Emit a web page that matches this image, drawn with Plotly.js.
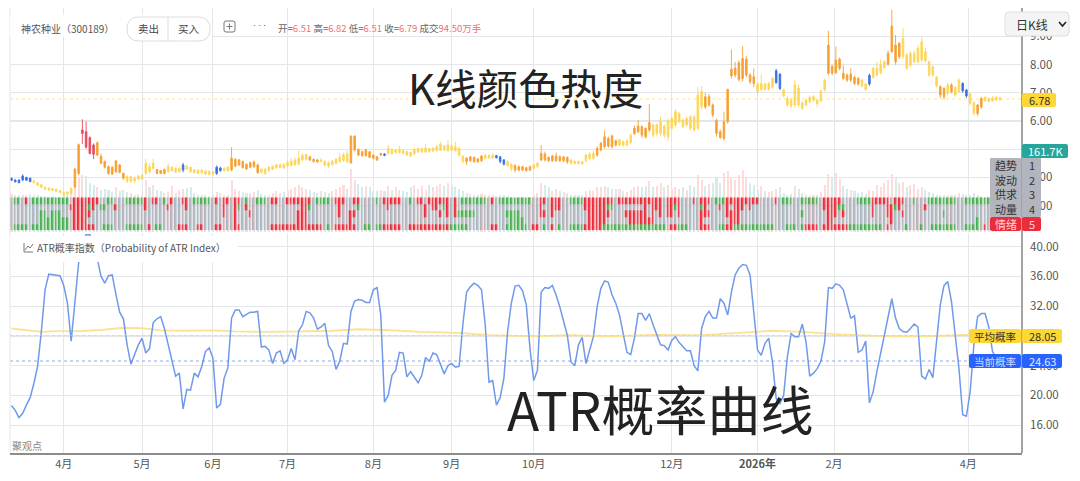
<!DOCTYPE html>
<html><head><meta charset="utf-8">
<script src="https://cdn.plot.ly/plotly-3.0.1.min.js"></script>
<style>html,body{margin:0;padding:0;background:#fff;overflow:hidden}</style>
</head><body><div id="chart" style="width:1080px;height:481px"></div>
<script>
const bodyTop=[3.97,3.91,3.91,4.05,4.00,3.97,3.88,3.81,3.74,3.65,
3.62,3.60,3.58,3.53,3.46,3.48,3.61,4.30,5.16,5.68,
5.62,5.41,5.15,5.23,4.74,4.56,4.38,4.36,4.58,4.44,
4.14,4.03,4.03,3.97,4.05,4.08,4.50,4.38,4.50,4.28,
4.24,4.28,4.38,4.36,4.32,4.32,4.44,4.40,4.36,4.26,
4.26,4.26,4.23,4.22,4.20,4.36,4.33,4.33,4.36,4.68,
4.64,4.62,4.56,4.46,4.52,4.55,4.44,4.29,4.29,4.36,
4.40,4.45,4.45,4.45,4.53,4.58,4.62,4.68,4.78,4.81,
4.73,4.64,4.62,4.62,4.57,4.52,4.57,4.64,4.71,4.80,
4.83,5.47,5.47,4.99,4.91,4.97,4.91,4.79,4.73,4.85,
4.83,5.03,4.99,4.97,4.97,4.95,4.91,4.89,4.99,5.02,
5.02,5.04,5.02,5.04,5.09,5.18,5.11,5.15,5.11,5.09,
5.04,4.76,4.68,4.73,4.71,4.66,4.76,4.78,4.78,4.79,
4.77,4.73,4.62,4.56,4.46,4.42,4.38,4.38,4.34,4.38,
4.44,4.50,4.85,4.83,4.71,4.76,4.76,4.73,4.73,4.71,
4.62,4.57,4.57,4.56,4.79,4.83,4.85,5.03,5.21,5.44,
5.38,5.47,5.30,5.33,5.27,5.30,5.50,5.74,5.82,5.80,
5.74,5.94,5.86,5.86,5.98,5.82,6.01,6.09,6.33,6.27,
6.03,6.09,6.15,6.15,6.92,7.04,6.86,6.86,6.57,6.03,
5.62,5.97,7.12,7.83,7.87,8.07,8.22,8.19,7.63,7.57,
7.31,7.33,7.31,7.33,7.51,7.78,7.66,7.10,6.80,6.74,
7.28,7.16,6.65,6.74,6.84,6.86,6.74,7.07,7.45,8.69,
7.93,8.16,8.19,7.69,7.63,7.66,7.55,7.51,7.45,7.31,
7.62,7.87,7.87,7.99,8.10,8.40,9.37,8.69,8.75,8.93,
8.34,8.40,8.40,8.58,8.81,8.46,8.10,7.93,7.55,7.22,
7.16,7.28,7.28,7.19,7.45,7.33,7.10,6.96,6.65,6.57,
6.80,6.84,6.80,6.82,6.84,6.83];
const bodyBottom=[3.90,3.84,3.81,3.91,3.90,3.85,3.81,3.72,3.65,3.58,
3.55,3.54,3.51,3.46,3.39,3.41,3.43,3.67,4.14,5.56,
5.07,4.85,4.82,4.79,4.50,4.36,4.14,4.12,4.20,4.18,
3.97,3.87,3.87,3.87,3.94,3.94,4.14,4.20,4.32,4.14,
4.14,4.14,4.20,4.24,4.20,4.20,4.26,4.29,4.20,4.17,
4.14,4.17,4.12,4.11,4.11,4.14,4.24,4.24,4.24,4.26,
4.40,4.44,4.35,4.30,4.36,4.38,4.17,4.18,4.14,4.24,
4.29,4.34,4.35,4.34,4.40,4.43,4.45,4.48,4.62,4.64,
4.62,4.56,4.55,4.57,4.43,4.40,4.45,4.50,4.56,4.60,
4.56,4.52,4.97,4.79,4.77,4.77,4.71,4.68,4.62,4.79,
4.78,4.85,4.85,4.88,4.88,4.85,4.79,4.76,4.83,4.90,
4.90,4.90,4.91,4.94,4.95,4.97,4.97,4.95,4.97,4.95,
4.79,4.56,4.56,4.59,4.56,4.55,4.59,4.68,4.69,4.69,
4.70,4.56,4.47,4.42,4.30,4.26,4.26,4.26,4.24,4.26,
4.32,4.38,4.62,4.62,4.59,4.59,4.59,4.59,4.59,4.55,
4.50,4.50,4.49,4.48,4.59,4.68,4.68,4.79,4.97,5.09,
5.11,5.09,5.15,5.15,5.15,5.15,5.23,5.56,5.62,5.50,
5.44,5.68,5.50,5.56,5.56,5.50,5.44,5.74,5.86,5.98,
5.80,5.86,5.74,5.68,5.74,6.51,6.50,6.57,6.21,5.56,
5.42,5.38,5.98,7.60,7.63,7.48,7.51,7.63,7.39,7.33,
7.04,7.12,7.12,7.12,7.19,7.36,7.15,6.90,6.57,6.53,
6.57,6.57,6.45,6.57,6.68,6.74,6.62,6.72,7.10,7.69,
7.69,7.71,7.87,7.51,7.45,7.45,7.33,7.31,7.24,7.12,
7.31,7.55,7.63,7.71,7.90,8.02,8.46,8.10,8.28,8.28,
7.87,7.98,8.10,8.10,8.16,8.14,7.63,7.63,7.24,6.92,
6.86,6.98,7.04,6.92,7.04,7.07,6.89,6.63,6.27,6.27,
6.50,6.72,6.69,6.71,6.75,6.75];
const highs=[3.99,3.93,3.92,4.11,4.02,3.99,3.90,3.84,3.77,3.68,
3.64,3.62,3.60,3.55,3.50,3.50,3.65,4.32,5.20,6.06,
5.98,5.45,5.20,5.28,4.85,4.60,4.42,4.40,4.62,4.48,
4.18,4.08,4.06,4.02,4.08,4.12,4.66,4.50,4.66,4.30,
4.26,4.32,4.50,4.40,4.36,4.36,4.52,4.44,4.38,4.30,
4.28,4.29,4.25,4.24,4.22,4.42,4.38,4.36,4.40,5.07,
4.68,4.66,4.60,4.50,4.56,4.60,4.50,4.32,4.33,4.40,
4.43,4.48,4.48,4.50,4.62,4.68,4.70,4.95,4.85,4.84,
4.76,4.67,4.65,4.68,4.62,4.56,4.62,4.68,4.85,4.88,
4.95,5.48,5.48,5.03,4.94,5.02,4.94,4.82,4.76,4.87,
4.85,5.15,5.02,5.00,5.12,4.98,4.95,4.92,5.05,5.08,
5.06,5.18,5.05,5.07,5.14,5.26,5.15,5.32,5.15,5.26,
5.08,4.78,4.72,4.76,4.74,4.68,4.79,4.84,4.82,4.84,
4.80,4.76,4.65,4.60,4.50,4.46,4.42,4.41,4.37,4.42,
4.48,4.54,5.15,4.92,4.74,4.80,4.88,4.78,4.76,4.74,
4.64,4.60,4.59,4.58,4.84,4.90,4.95,5.10,5.26,5.66,
5.45,5.52,5.34,5.38,5.31,5.36,5.55,5.85,6.03,5.85,
5.78,6.60,5.92,5.92,6.15,5.88,6.08,6.15,6.42,6.32,
6.10,6.15,6.22,6.20,7.20,7.24,7.00,6.96,6.62,6.08,
5.70,6.33,7.14,8.54,8.10,8.15,8.66,8.30,7.70,7.87,
7.36,7.66,7.36,7.40,7.56,7.85,7.70,7.15,6.86,6.80,
7.45,7.30,6.70,6.80,6.90,6.92,6.78,7.10,7.50,9.20,
8.00,8.64,8.25,7.98,7.68,7.87,7.60,7.55,7.50,7.35,
7.68,7.92,8.10,8.18,8.15,8.50,9.94,9.05,8.80,9.28,
8.42,8.48,8.50,8.70,8.96,8.60,8.15,7.96,7.60,7.26,
7.20,7.35,7.34,7.24,7.52,7.38,7.14,7.00,6.70,6.60,
6.86,6.88,6.84,6.88,6.87,6.85];
const lows=[3.88,3.83,3.80,3.87,3.88,3.83,3.79,3.70,3.62,3.56,
3.53,3.52,3.49,3.44,3.32,3.38,3.40,3.60,4.08,5.19,
5.02,4.82,4.65,4.76,4.46,4.32,4.10,4.08,4.16,4.14,
3.92,3.80,3.80,3.80,3.90,3.90,4.08,4.14,4.28,4.11,
4.12,4.10,4.16,4.20,4.16,4.17,4.18,4.26,4.16,4.14,
4.11,4.13,4.08,4.07,4.07,4.09,4.20,4.21,4.20,4.22,
4.36,4.40,4.31,4.26,4.33,4.34,4.12,4.14,4.08,4.20,
4.26,4.30,4.32,4.30,4.36,4.38,4.40,4.42,4.56,4.60,
4.58,4.53,4.52,4.54,4.38,4.34,4.42,4.46,4.52,4.55,
4.50,4.48,4.92,4.75,4.73,4.73,4.68,4.64,4.58,4.76,
4.75,4.80,4.80,4.85,4.85,4.82,4.76,4.72,4.80,4.86,
4.87,4.87,4.87,4.90,4.92,4.93,4.93,4.90,4.93,4.92,
4.72,4.50,4.44,4.55,4.52,4.52,4.55,4.64,4.66,4.66,
4.67,4.50,4.42,4.38,4.22,4.18,4.21,4.22,4.20,4.22,
4.28,4.34,4.58,4.56,4.54,4.55,4.55,4.55,4.54,4.48,
4.46,4.46,4.46,4.45,4.54,4.62,4.60,4.72,4.92,5.02,
5.05,5.02,5.10,5.10,5.10,5.10,5.18,5.50,5.56,5.40,
5.38,5.60,5.40,5.46,5.46,5.40,5.30,5.68,5.78,5.92,
5.74,5.80,5.66,5.62,5.68,6.40,6.42,6.50,6.14,5.44,
5.36,5.30,5.90,7.50,7.54,7.40,7.40,7.55,7.30,7.20,
6.92,7.06,7.06,7.08,7.14,7.32,7.10,6.84,6.50,6.46,
6.48,6.50,6.38,6.52,6.62,6.68,6.48,6.66,7.04,7.62,
7.62,7.66,7.80,7.44,7.38,7.38,7.28,7.25,7.18,7.06,
7.25,7.48,7.58,7.65,7.85,7.95,8.40,8.00,8.20,8.20,
7.80,7.92,8.04,8.04,8.10,8.06,7.56,7.56,7.18,6.82,
6.76,6.92,6.98,6.86,7.00,7.00,6.82,6.56,6.20,6.18,
6.44,6.68,6.66,6.68,6.71,6.72];
// heat class of every candle: b blue, y yellow, o orange, r red
const heatClass=("bbbbbbyyyy yyyyyyyoor rrrooooooo oyyyyyyyyo ooyyyybyyy yyyyybbyyo oooooooyyy yyyyyyyyyy oooyyyyyyy yooooooooo "+
"byyyyyyyyy yyyyyyyyyy yyoooooyyy bbbyyooooo yyoooooooo yyyyyyyooo oooyyyyooo ooyyyyyyyy yyyyyyoooo oooooooooo "+
"yyyyybbyyy yyyyyyyyyo ooooooooyy byyyyooooy yyyyyyyyyo oyoyybbyyo oyyyyy").replace(/ /g,"");
const volumes=[175,170,168,172,170,175,170,172,165,165,
160,165,160,162,170,172,185,235,255,262,
258,225,215,205,192,200,195,182,205,190,
195,182,178,172,175,172,238,205,215,195,
190,178,182,210,178,192,200,202,205,178,
172,170,168,165,170,185,178,172,168,240,
200,190,185,180,178,182,195,176,172,170,
178,188,180,182,195,198,205,215,205,200,
192,185,180,190,182,178,190,200,205,215,
200,290,240,222,205,210,205,190,188,192,
188,212,195,205,192,188,182,205,215,200,
210,195,215,205,210,220,210,225,212,208,
200,190,180,175,172,170,175,172,170,168,
165,170,172,165,160,158,160,160,158,160,
170,178,225,215,205,190,198,190,185,178,
172,168,172,170,188,192,190,205,205,212,
205,200,198,196,190,185,195,205,210,208,
212,235,205,210,225,205,215,198,205,200,
205,195,215,205,262,240,210,220,225,250,
225,270,280,250,240,262,285,255,225,215,
195,210,190,185,190,198,205,180,172,175,
210,198,180,170,165,172,170,185,215,265,
250,270,245,210,200,195,190,178,185,175,
195,190,215,205,225,240,265,255,225,232,
205,215,220,200,205,195,185,178,172,170,
168,170,172,170,178,175,170,172,178,170,
165,162,160,162,161,162];
const atrProb=[18.6,18.0,17.0,17.6,18.7,19.7,21.6,23.9,28.6,34.2,
36.3,36.2,36.1,36.1,34.8,32.4,27.3,32.6,37.8,40.5,
41.6,41.6,40.0,38.4,36.0,35.1,36.1,36.2,33.6,31.2,
30.3,26.8,24.2,25.6,26.8,27.7,25.7,26.3,29.8,30.3,
30.6,29.0,27.0,24.8,22.6,23.0,18.2,20.8,20.7,23.0,
22.5,23.9,25.9,26.4,25.0,18.3,18.8,22.3,23.7,30.4,
31.5,31.5,30.6,30.9,31.2,31.2,31.3,26.5,26.6,26.1,
24.3,25.7,26.0,24.3,24.8,26.3,24.8,28.7,29.5,31.3,
31.1,30.4,28.9,29.2,29.7,26.7,25.9,23.5,24.6,27.0,
26.9,31.3,32.7,32.9,32.8,32.5,32.5,34.2,34.5,30.8,
19.1,20.0,22.7,23.4,25.8,25.7,22.5,23.2,22.5,21.7,
22.7,25.1,24.6,25.7,25.5,24.3,22.9,24.0,24.3,23.8,
23.9,29.5,33.9,34.6,35.1,34.8,34.2,29.5,21.8,22.0,
18.7,19.7,22.3,28.6,32.4,34.7,34.8,34.1,32.2,26.3,
22.0,23.4,33.9,34.5,34.4,34.8,33.5,31.9,30.1,28.1,
24.5,24.0,26.8,27.8,24.3,26.1,27.9,31.9,34.4,35.4,
35.2,33.5,32.4,30.8,28.1,25.8,25.5,27.7,31.0,31.0,
30.1,31.0,29.5,28.2,26.8,26.7,26.1,27.4,27.9,27.1,
26.5,26.0,26.0,24.0,23.3,29.0,30.6,31.3,30.4,30.4,
33.0,32.4,30.8,33.9,36.2,37.1,37.6,37.5,36.2,31.3,
26.1,25.4,27.0,27.7,24.5,19.6,18.9,20.0,25.2,28.3,
27.9,27.9,29.6,27.2,22.6,23.0,23.6,24.6,27.2,34.5,
34.4,35.0,34.8,34.2,32.4,30.4,30.7,25.8,26.1,27.3,
19.0,20.5,23.2,25.7,27.9,30.8,33.0,30.4,29.0,28.6,
28.5,29.0,29.6,29.2,22.6,22.2,23.5,22.4,27.2,32.2,
34.8,35.3,32.6,27.7,23.6,17.4,17.2,20.5,26.8,30.6,
31.0,31.0,29.2,25.9,25.0,24.63];
const avgIdx=[0,4,8,12,18,24,30,35,40,46,54,60,68,78,86,93,100,110,120,128,140,150,160,172,185,195,204,212,222,235,245,255,265];
const avgProbLine=[29.0,28.8,28.55,28.65,28.65,28.8,29.1,29.05,28.75,28.7,28.75,28.6,28.55,28.6,28.7,28.9,28.8,28.55,28.4,28.1,27.95,28.1,27.95,28.15,28.1,28.4,28.7,28.55,28.2,27.95,27.95,28.15,28.05];
const monthIdx=[14,35,54,74,97,118,140,177,200,220.5,256.5];
const monthLabels=["4月","5月","6月","7月","8月","9月","10月","12月","<b>2026年</b>","2月","4月"];
const factorLabels=["趋势","波动","供求","动量","情绪"];
const factorGreen=[
"1-2 6-15 26-27 31-35 41 49-53 63 66-68 82-85 98 107 121-127 131-139 150-153 189-191 207-209 212-216 227-230 242 246-253 256-265",
"21 24-25 61 80 93 116 160-161 178 185 222-223 237",
"8-9 11-13 120-124 133-136 212 250",
"8-15 134-137 259",
"1-4 6-15 25-27 31-35 39-40 85 95-96 98-99 118-122 133-138 143 147 150-153 159-175 179-181 190-191 194-204 208-210 212 225-233 240 244 247-253 256-259"];
const factorRed=[
"4 17-23 36 38-39 43 46-47 55 57-58 60-61 70-71 74-80 87-89 92-93 100-104 109-110 112-117 119 129 142-143 145-147 154-161 163-174 176-179 183 185-187 192-200 205 218-222 231-235 237-239",
"16-20 22 28 36 42 47 57 60 63 78-79 88 101 111 113-114 117 119 142 145-147 154-159 170 172-174 176-177 179 186 190 192 194-196 198 218-221 231 235-236 238 245",
"17-21 57 60 64 77-79 88 91-92 111 115 117 119 142-143 145 155-160 165-170 172 174 176-177 179 185-187 192-195 219-221 223 231 235-236 239",
"17-20 60 77-79 91 155-159 166-172 185 193-195 219-220 236",
"17-22 37 45-47 50-51 55-56 60-61 70-83 87-92 100-104 107-117 129-130 140-141 145 154-158 177-178 185-187 192-193 213-216 218-224 235 261"];
const lastPrice=6.78, avgProb=28.05, curProb=24.63;
const priceTicks=[3,4,5,6,7,8,9,10], atrTicks=[16,20,24,28,32,36,40];

const N=bodyTop.length, idx=bodyTop.map((_,i)=>i);
const FONT='"Noto Sans CJK SC","Noto Sans",sans-serif';
const fx=p=>(p-10)/1012, fy=p=>1-p/481;
const PRICE_H={b:"#3a70e6",y:"#fdd65a",o:"#f7a032",r:"#e9485c"};

const traces=[];
const mid=i=>bodyTop[i]+bodyBottom[i];
traces.push({type:"bar",x:idx,y:volumes,yaxis:"y",width:0.55,hoverinfo:"skip",
  marker:{color:idx.map(i=>(i==0||mid(i)>=mid(i-1))?"rgba(239,83,80,.2)":"rgba(38,166,154,.2)"),line:{width:0}}});
for(const k of "oybr"){
  const s=idx.filter(i=>heatClass[i]===k);
  const style={line:{color:PRICE_H[k],width:0.9},fillcolor:PRICE_H[k]};
  traces.push({type:"candlestick",x:s,yaxis:"y2",open:s.map(i=>bodyBottom[i]),close:s.map(i=>bodyTop[i]),
    high:s.map(i=>highs[i]),low:s.map(i=>lows[i]),increasing:style,decreasing:style,whiskerwidth:0,hoverinfo:"skip",showlegend:false});
}
const expand=t=>{const o=[];t.split(" ").forEach(r=>{const[a,b]=r.split("-").map(Number);for(let i=a;i<=(b===undefined?a:b);i++)o.push(i)});return o};
const z=factorLabels.map((_,r)=>{const row=idx.map(()=>0);
  expand(factorGreen[r]).forEach(i=>row[i]=1);expand(factorRed[r]).forEach(i=>row[i]=2);return row});
traces.push({type:"heatmap",x:idx,y:[0,1,2,3,4],z:z,yaxis:"y3",zmin:0,zmax:2,showscale:false,xgap:1.4,ygap:0,hoverinfo:"skip",
  colorscale:[[0,"#b2b5be"],[.33,"#b2b5be"],[.33,"#4caf50"],[.66,"#4caf50"],[.66,"#ea2c3b"],[1,"#ea2c3b"]]});
traces.push({type:"scatter",mode:"lines",x:avgIdx,y:avgProbLine,yaxis:"y4",line:{color:"#fbe293",width:1.8},hoverinfo:"skip"});
traces.push({type:"scatter",mode:"lines",x:idx,y:atrProb,yaxis:"y4",line:{color:"#7099ea",width:1.5},hoverinfo:"skip"});

const GRID="#e5e6e9";
const yBase={showline:false,zeroline:false,ticks:"",fixedrange:true};
const layout={width:1080,height:481,margin:{l:10,r:58,t:0,b:0,pad:0},paper_bgcolor:"#fff",plot_bgcolor:"rgba(0,0,0,0)",
  showlegend:false,font:{family:FONT,size:11,color:"#555"},bargap:0,boxgap:0.4,
  xaxis:{domain:[0,1],anchor:"y4",range:[-0.4,270.9],tickmode:"array",tickvals:monthIdx,ticktext:monthLabels,showgrid:true,gridcolor:GRID,gridwidth:1,
    zeroline:false,showline:true,linecolor:"#8c8c8c",linewidth:2,ticks:"",tickfont:{size:11,color:"#555"},rangeslider:{visible:false},fixedrange:true},
  yaxis:{...yBase,domain:[fy(232),fy(8)],range:[0,1030],showgrid:false,showticklabels:false,anchor:"x"},
  yaxis2:{...yBase,domain:[fy(232),fy(8)],range:[2.064,10.007],side:"right",anchor:"x",tickmode:"array",tickvals:priceTicks,tickformat:".2f",ticklabelstandoff:7,showgrid:true,gridcolor:GRID,gridwidth:1.2,tickfont:{size:11.5,color:"#555"}},
  yaxis3:{...yBase,domain:[fy(230.5),fy(197.3)],range:[4.5,-0.5],showgrid:false,showticklabels:false,anchor:"x"},
  yaxis4:{...yBase,domain:[fy(453),fy(233)],range:[12.26,41.84],side:"right",anchor:"x",tickmode:"array",tickvals:atrTicks,tickformat:".2f",ticklabelstandoff:7,showgrid:true,gridcolor:GRID,gridwidth:1.2,tickfont:{size:11.5,color:"#555"}},
};
const rr=(x0,y0,x1,y1,r)=>{const X=fx,Y=fy;return `M${X(x0+r)},${Y(y0)} L${X(x1-r)},${Y(y0)} Q${X(x1)},${Y(y0)} ${X(x1)},${Y(y0+r)} L${X(x1)},${Y(y1-r)} Q${X(x1)},${Y(y1)} ${X(x1-r)},${Y(y1)} L${X(x0+r)},${Y(y1)} Q${X(x0)},${Y(y1)} ${X(x0)},${Y(y1-r)} L${X(x0)},${Y(y0+r)} Q${X(x0)},${Y(y0)} ${X(x0+r)},${Y(y0)} Z`};
const box=(x0,y0,x1,y1,r,fill,line)=>({type:"path",xref:"paper",yref:"paper",path:rr(x0,y0,x1,y1,r),fillcolor:fill,line:{color:line||fill,width:line?1:0},layer:"above"});
const seg=(x0,y0,x1,y1,color,w,dash)=>({type:"line",xref:"paper",yref:"paper",x0:fx(x0),y0:fy(y0),x1:fx(x1),y1:fy(y1),line:{color:color,width:w,dash:dash||"solid"},layer:"above"});
const shapes=[
  {type:"line",xref:"paper",yref:"y2",x0:0,x1:1,y0:lastPrice,y1:lastPrice,opacity:.55,line:{color:"#fdd835",width:1,dash:"dot"},layer:"above"},
  {type:"line",xref:"paper",yref:"y4",x0:0,x1:fx(969),y0:avgProb,y1:avgProb,opacity:.6,line:{color:"#fdd835",width:1,dash:"dot"},layer:"above"},
  {type:"line",xref:"paper",yref:"y4",x0:0,x1:fx(969),y0:curProb,y1:curProb,opacity:.7,line:{color:"#5b86ee",width:1,dash:"dot"},layer:"above"},
  seg(10,8,10,453,GRID,1),
  seg(1022,8,1022,453,"#8c8c8c",1.6),
  box(10,15,212,37,0,"#fff"),
  box(127,17,210,41,12,"#fff","#dcdde0"),
  seg(168,17,168,41,"#dcdde0",1),
  box(224,21,235,32,2,"#fff","#777"),
  seg(226.5,26.5,232.5,26.5,"#777",1),seg(229.5,23.5,229.5,29.5,"#777",1),
  box(1005,12,1069,36,4,"#f4f4f4","#dedede"),
  {type:"path",xref:"paper",yref:"paper",path:`M${fx(1059)},${fy(22)} L${fx(1062.5)},${fy(26)} L${fx(1066)},${fy(22)}`,line:{color:"#222",width:1.6},fillcolor:"rgba(0,0,0,0)",layer:"above"},
  box(1022,93,1056,107,2,"#fdd835"),
  box(1022,144,1068,158,2,"#26a69a"),
  box(990,158,1021,217,1,"#b2b5be"),box(1022,158,1041,217,1,"#b2b5be"),
  box(990,217,1021,231,2,"#ea2c3b"),box(1022,217,1041,231,2,"#ea2c3b"),
  box(10,236,238,262,0,"#fff"),
  {type:"path",xref:"paper",yref:"paper",path:`M${fx(24)},${fy(243)} L${fx(24)},${fy(252)} L${fx(33)},${fy(252)} M${fx(25)},${fy(250)} L${fx(28)},${fy(246)} L${fx(30)},${fy(248)} L${fx(33)},${fy(244)}`,line:{color:"#555",width:0.8},fillcolor:"rgba(0,0,0,0)",layer:"above"},
  box(969,329,1021,343,2,"#fdd835"),box(1022,329,1062,343,2,"#fdd835"),
  box(969,354,1021,368,2,"#2962ff"),box(1022,354,1062,368,2,"#2962ff"),
];
const T=(text,x,y,size,color,anchor)=>({text:text,xref:"paper",yref:"paper",x:fx(x),y:fy(y),xanchor:anchor||"left",yanchor:"middle",showarrow:false,
  font:{family:FONT,size:size,color:color},borderpad:0,captureevents:false});
const V=t=>`<span style="color:#ee6f79">${t}</span>`;
const annotations=[
  T("神农种业（300189）",20,28,10,"#555"),
  T("卖出",148,29,10.5,"#444","center"),T("买入",189,29,10.5,"#444","center"),
  T("•••",259.5,25,5,"#555","center"),
  T(`开=${V("6.51")} 高=${V("6.82")} 低=${V("6.51")} 收=${V("6.79")} 成交${V("94.50万手")}`,277,28,9.5,"#666"),
  T("K线颜色热度",407,87,41.7,"#222"),
  T("ATR概率曲线",506,408,53,"#222"),
  T("日K线",1015,24,12,"#333"),
  T(lastPrice.toFixed(2),1039,100,11,"#333","center"),
  T("161.7K",1045,151,11,"#fff","center"),
  ...factorLabels.map((t,i)=>T(t,1005.5,165+i*14.7,11,i==4?"#ffd5d8":"#333","center")),
  ...factorLabels.map((t,i)=>T(String(i+1),1032,165+i*14.7,11,i==4?"#ffd5d8":"#333","center")),
  T("ATR概率指数（Probability of ATR Index）",36,247,10,"#555"),
  T("聚观点",11,445,10,"#888"),
  T("平均概率",995,336,10.5,"#333","center"),T(avgProb.toFixed(2),1042,336,11,"#333","center"),
  T("当前概率",995,361,10.5,"#cdd9ff","center"),T(curProb.toFixed(2),1042,361,11,"#e3eaff","center"),
];
layout.shapes=shapes;layout.annotations=annotations;
Plotly.newPlot("chart",traces,layout,{displayModeBar:false,staticPlot:true});
</script></body></html>
